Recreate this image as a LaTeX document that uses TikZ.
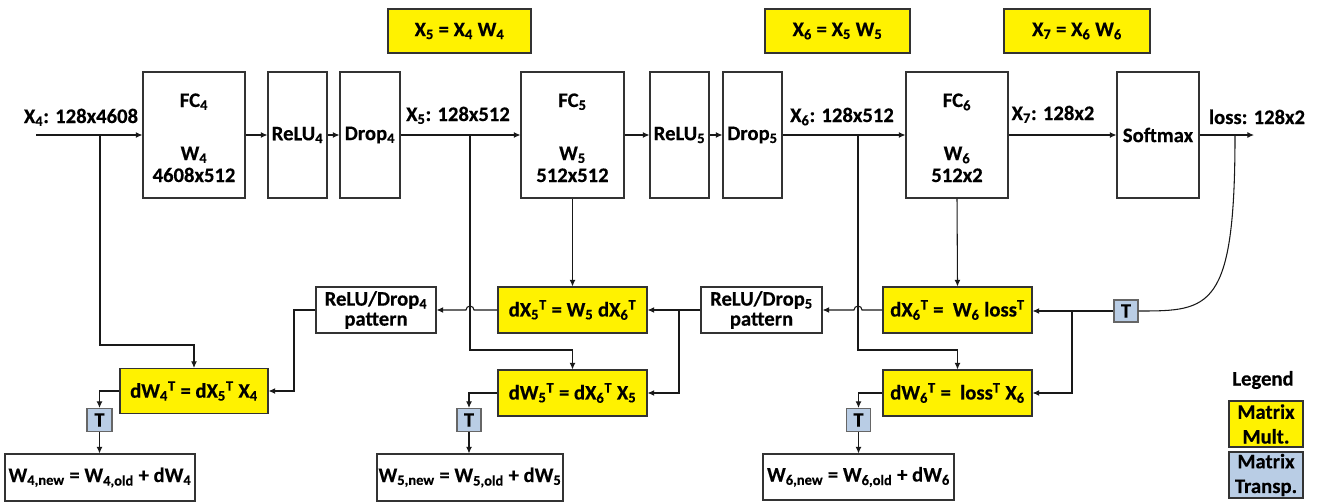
\documentclass[tikz,border=0pt]{standalone}
\usepackage{fontspec}
\setmainfont{Carlito}[BoldFeatures={FakeBold=0.35}]
\usetikzlibrary{arrows.meta}
\definecolor{tblue}{RGB}{185,205,229}
\newcommand{\sbs}[1]{\textsubscript{#1}}
\newcommand{\sps}[1]{\textsuperscript{#1}}
\newcommand{\fsz}{\fontsize{15.5}{15.5}\selectfont}
\begin{document}
\begin{tikzpicture}[x=0.75pt,y=-0.75pt,
 every node/.style={font=\bfseries\fsz, inner sep=0pt, align=center},
 box/.style={draw=black!80, line width=0.8pt},
 sz/.style 2 args={minimum width=#1*0.75pt, minimum height=#2*0.75pt},
 ymul/.style={box, fill=yellow},
 trbox/.style={draw=black!60, line width=0.8pt, fill=tblue},
 wire/.style={line width=0.8pt, black!90},
 arr/.style={wire, -{Latex[length=5pt,width=4.5pt]}},
 lbl/.style={anchor=base},
 legtxt/.style={font=\bfseries\fontsize{15.5}{18.5}\selectfont}]
\useasboundingbox (0,0) rectangle (1319,503);

% top formulas
\node[ymul, sz={143}{44}] (top1) at (459.5,31) {X\sbs{5} = X\sbs{4} W\sbs{4}};
\node[ymul, sz={145}{44}] (top2) at (837.5,31) {X\sbs{6} = X\sbs{5} W\sbs{5}};
\node[ymul, sz={146}{44}] (top3) at (1077,31) {X\sbs{7} = X\sbs{6} W\sbs{6}};

% forward boxes
\node[box, sz={102}{126}] (fc4) at (194,135) {};
\node[box, sz={59}{126}] (relu4) at (297.5,135) {ReLU\sbs{4}};
\node[box, sz={60}{126}] (drop4) at (370,135) {Drop\sbs{4}};
\node[box, sz={103}{126}] (fc5) at (572.5,135) {};
\node[box, sz={59}{126}] (relu5) at (679.5,135) {ReLU\sbs{5}};
\node[box, sz={59}{126}] (drop5) at (752.5,135) {Drop\sbs{5}};
\node[box, sz={102}{126}] (fc6) at (957,135) {};
\node[box, sz={82}{126}] (soft) at (1158,135) {Softmax};

% texts inside FC boxes
\node[lbl] (fc4a) at (194,107) {FC\sbs{4}};
\node[lbl] (fc4b) at (194,160) {W\sbs{4}};
\node[lbl] (fc4c) at (194,182) {4608x512};
\node[lbl] (fc5a) at (572.5,107) {FC\sbs{5}};
\node[lbl] (fc5b) at (572.5,160) {W\sbs{5}};
\node[lbl] (fc5c) at (572.5,182) {512x512};
\node[lbl] (fc6a) at (957,107) {FC\sbs{6}};
\node[lbl] (fc6b) at (957,160) {W\sbs{6}};
\node[lbl] (fc6c) at (957,182) {512x2};

% edge labels
\node[lbl] (lx4) at (81,123) {X\sbs{4}: 128x4608};
\node[lbl] (lx5) at (458,121) {X\sbs{5}: 128x512};
\node[lbl] (lx6) at (842,122) {X\sbs{6}: 128x512};
\node[lbl] (lx7) at (1053,120) {X\sbs{7}: 128x2};
\node[lbl] (lloss) at (1257,124) {loss: 128x2};

% backward boxes
\node[box, sz={120}{46}, font=\bfseries\fontsize{15.5}{15}\selectfont] (rd4) at (376,310) {ReLU/Drop\sbs{4}\\pattern};
\node[ymul, sz={149}{46}] (dx5) at (572.5,310) {dX\sbs{5}\sps{T} = W\sbs{5} dX\sbs{6}\sps{T}};
\node[ymul, sz={149}{46}] (dw5) at (572.5,393) {dW\sbs{5}\sps{T} = dX\sbs{6}\sps{T} X\sbs{5}};
\node[box, sz={121}{46}, font=\bfseries\fontsize{15.5}{15}\selectfont] (rd5) at (761.5,310) {ReLU/Drop\sbs{5}\\pattern};
\node[ymul, sz={149}{46}] (dx6) at (957.5,310) {dX\sbs{6}\sps{T} =\ \ W\sbs{6} loss\sps{T}};
\node[ymul, sz={149}{46}] (dw6) at (957.5,393) {dW\sbs{6}\sps{T} =\ \ loss\sps{T} X\sbs{6}};
\node[ymul, sz={148}{45}] (dw4) at (194,391) {dW\sbs{4}\sps{T} = dX\sbs{5}\sps{T} X\sbs{4}};

% transpose boxes
\node[trbox, sz={25}{23}] (t4) at (99.5,420) {T};
\node[trbox, sz={24}{23}] (t5) at (469,420) {T};
\node[trbox, sz={24}{23}] (t6) at (858.5,420) {T};
\node[trbox, sz={24}{22}] (tl) at (1126,311) {T};

% update boxes
\node[box, sz={190}{47}] (w4n) at (100,477.5) {W\sbs{4,new} = W\sbs{4,old} + dW\sbs{4}};
\node[box, sz={186}{47}] (w5n) at (470,477.5) {W\sbs{5,new} = W\sbs{5,old} + dW\sbs{5}};
\node[box, sz={191}{46}] (w6n) at (858.5,477) {W\sbs{6,new} = W\sbs{6,old} + dW\sbs{6}};

% legend
\node (leg) at (1263,380) {Legend};
\node[ymul, sz={74}{46}, legtxt] (legm) at (1266,424) {Matrix\\Mult.};
\node[trbox, sz={74}{46}, legtxt, draw=black!80] (legt) at (1266,475) {Matrix\\Transp.};

% coordinates
\coordinate (in4) at (36,135);
\coordinate (out) at (1254,135);
\coordinate (b4) at (100,135);
\coordinate (k4) at (100,345);
\coordinate (b5) at (470,135);
\coordinate (k5) at (470,350);
\coordinate (b6) at (858,135);
\coordinate (k6) at (858,350);
\coordinate (m4) at (294,310);
\coordinate (j5) at (679,310);
\coordinate (j6) at (1072,311);
\coordinate (bl) at (1235,135);
\coordinate (h5) at (474,310);
\coordinate (h6) at (862,310);

% forward wires
\draw[arr] (in4) -- (fc4.west);
\draw[arr] (fc4.east) -- (relu4.west);
\draw[arr] (relu4.east) -- (drop4.west);
\draw[arr] (drop4.east) -- (fc5.west);
\draw[arr] (fc5.east) -- (relu5.west);
\draw[arr] (relu5.east) -- (drop5.west);
\draw[arr] (drop5.east) -- (fc6.west);
\draw[arr] (fc6.east) -- (soft.west);
\draw[arr] (soft.east) -- (out);

% branches
\draw[arr] (b4) -- (k4) -| (dw4.north);
\draw[arr] (b5) -- (k5) -| (dw5.north);
\draw[arr] (b6) -- (k6) -| (dw6.north);
\draw[arr] (fc5.south) -- (dx5.north);
\draw[arr] (fc6.south) -- (dx6.north);

% backward wires
\draw[arr] (dx5.west) -- (h5) arc[start angle=0,end angle=180,radius=3pt] -- (rd4.east);
\draw[arr] (dx6.west) -- (h6) arc[start angle=0,end angle=180,radius=3pt] -- (rd5.east);
\draw[arr] (rd4.west) -- (m4) |- (dw4.east);
\draw[arr] (rd5.west) -- (dx5.east);
\draw[arr] (j5) |- (dw5.east);
\draw[wire] (bl) .. controls (1235,310) and (1210,311) .. (tl.east);
\draw[arr] (tl.west) -- (dx6.east |- tl.west);
\draw[arr] (j6) |- (dw6.east);

% transpose wires
\draw[arr] (dw4.west) -| (t4.north);
\draw[arr] (t4.south) -- (t4.south |- w4n.north);
\draw[arr] (dw5.west) -| (t5.north);
\draw[arr] (t5.south) -- (t5.south |- w5n.north);
\draw[arr] (dw6.west) -| (t6.north);
\draw[arr] (t6.south) -- (t6.south |- w6n.north);
\end{tikzpicture}
\end{document}
